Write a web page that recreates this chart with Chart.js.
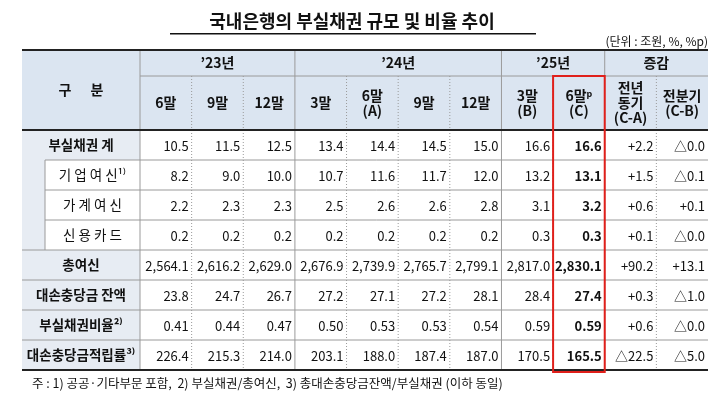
<!DOCTYPE html>
<html><head><meta charset="utf-8">
<script src="https://cdn.jsdelivr.net/npm/chart.js@4"></script>
<style>html,body{margin:0;background:#fff}#wrap{width:720px;height:403px}</style>
</head><body><div id="wrap"><canvas id="c"></canvas></div>
<script>
const columns = ['6말', '9말', '12말', '3말', '6말\n(A)', '9말', '12말', '3말\n(B)', '6말ᵖ\n(C)', '전년\n동기\n(C-A)', '전분기\n(C-B)'];
const yearGroups = [['’23년', 0, 2], ['’24년', 3, 6], ['’25년', 7, 8], ['증감', 9, 10]];
const rowLabels = ['부실채권 계', '기업여신', '가계여신', '신용카드', '총여신', '대손충당금 잔액', '부실채권비율', '대손충당금적립률'];
const labelText = ['부실채권 계', '기 업 여 신¹⁾', '가 계 여 신', '신 용 카 드', '총여신', '대손충당금 잔액', '부실채권비율²⁾', '대손충당금적립률³⁾'];
const subRows = [false, true, true, true, false, false, false, false];

const badLoans = ['10.5', '11.5', '12.5', '13.4', '14.4', '14.5', '15.0', '16.6', '16.6', '+2.2', '△0.0'];
const corporate = ['8.2', '9.0', '10.0', '10.7', '11.6', '11.7', '12.0', '13.2', '13.1', '+1.5', '△0.1'];
const household = ['2.2', '2.3', '2.3', '2.5', '2.6', '2.6', '2.8', '3.1', '3.2', '+0.6', '+0.1'];
const creditCard = ['0.2', '0.2', '0.2', '0.2', '0.2', '0.2', '0.2', '0.3', '0.3', '+0.1', '△0.0'];
const totalLoans = ['2,564.1', '2,616.2', '2,629.0', '2,676.9', '2,739.9', '2,765.7', '2,799.1', '2,817.0', '2,830.1', '+90.2', '+13.1'];
const allowance = ['23.8', '24.7', '26.7', '27.2', '27.1', '27.2', '28.1', '28.4', '27.4', '+0.3', '△1.0'];
const badRatio = ['0.41', '0.44', '0.47', '0.50', '0.53', '0.53', '0.54', '0.59', '0.59', '+0.6', '△0.0'];
const coverage = ['226.4', '215.3', '214.0', '203.1', '188.0', '187.4', '187.0', '170.5', '165.5', '△22.5', '△5.0'];
const tableRows = [badLoans, corporate, household, creditCard, totalLoans, allowance, badRatio, coverage];
const highlightCol = 8;

const FONT = '"Noto Sans CJK KR", "Noto Sans", sans-serif';

const tablePlugin = {
    id: 'table',
    afterDraw(chart) {
        const ctx = chart.ctx;
        const x = chart.scales.x;
        const y = chart.scales.y;
        const area = chart.chartArea;
        const colW = x.getPixelForValue(1) - x.getPixelForValue(0);
        const rowH = y.getPixelForValue(1) - y.getPixelForValue(0);
        const left = 22, top = 50, mid = 76, right = area.right;
        const colEdge = i => x.getPixelForValue(i) - colW / 2;
        const rowEdge = i => y.getPixelForValue(i) - rowH / 2;

        ctx.save();
        // title
        ctx.fillStyle = '#111';
        ctx.font = 'bold 18px ' + FONT;
        ctx.textAlign = 'center';
        ctx.textBaseline = 'middle';
        ctx.fillText('국내은행의 부실채권 규모 및 비율 추이', 352, 21);
        ctx.fillRect(170, 33, 366, 1.5);
        ctx.font = '12px ' + FONT;
        ctx.textAlign = 'right';
        ctx.fillText('(단위 : 조원, %, %p)', 708, 41);

        // backgrounds
        ctx.fillStyle = '#dbe5f1';
        ctx.fillRect(left, top, right - left, area.top - top);
        ctx.fillStyle = '#e7ecf3';
        ctx.fillRect(left, area.top, area.left - left, area.bottom - area.top);
        ctx.fillStyle = '#fff';
        rowLabels.forEach((r, i) => {
            if (subRows[i]) ctx.fillRect(45, rowEdge(i), area.left - 45, rowH);
        });

        // grid
        ctx.strokeStyle = '#9a9a9a';
        ctx.lineWidth = 1;
        for (let i = 1; i < rowLabels.length; i++) {
            const yy = rowEdge(i);
            ctx.beginPath();
            ctx.moveTo(subRows[i] ? 45 : left, yy);
            ctx.lineTo(right, yy);
            ctx.stroke();
        }
        ctx.beginPath();
        ctx.moveTo(area.left, mid); ctx.lineTo(right, mid);
        ctx.moveTo(45, rowEdge(1)); ctx.lineTo(45, rowEdge(4));
        ctx.stroke();
        for (let i = 0; i < columns.length; i++) {
            const xx = colEdge(i);
            const solid = i === 0 || yearGroups.some(g => g[1] === i);
            ctx.setLineDash(solid ? [] : [1, 2]);
            ctx.beginPath();
            ctx.moveTo(xx, solid ? top : mid);
            ctx.lineTo(xx, area.bottom);
            ctx.stroke();
        }
        ctx.setLineDash([]);
        ctx.strokeStyle = '#222';
        ctx.lineWidth = 2;
        [top, area.top, area.bottom].forEach(yy => {
            ctx.beginPath(); ctx.moveTo(left, yy); ctx.lineTo(right, yy); ctx.stroke();
        });

        // header text
        ctx.fillStyle = '#111';
        ctx.textAlign = 'center';
        ctx.font = 'bold 14px ' + FONT;
        ctx.fillText('구      분', (left + area.left) / 2, (top + area.top) / 2);
        yearGroups.forEach(g => {
            ctx.fillText(g[0], (colEdge(g[1]) + colEdge(g[2] + 1)) / 2, (top + mid) / 2);
        });
        columns.forEach((c, i) => {
            const lines = c.split('\n');
            const lh = 15;
            const y0 = (mid + area.top) / 2 - (lines.length - 1) * lh / 2;
            lines.forEach((t, k) => ctx.fillText(t, x.getPixelForValue(i), y0 + k * lh));
        });

        // body
        rowLabels.forEach((r, i) => {
            const yy = y.getPixelForValue(i);
            ctx.font = (subRows[i] ? '' : 'bold ') + '13.5px ' + FONT;
            ctx.textAlign = 'center';
            const cx = subRows[i] ? (45 + area.left) / 2 : (left + area.left) / 2;
            ctx.fillText(labelText[i], cx, yy);
            ctx.textAlign = 'right';
            tableRows[i].forEach((v, j) => {
                ctx.font = (j === highlightCol ? 'bold ' : '') + '13px ' + FONT;
                ctx.fillText(v, colEdge(j + 1) - 3, yy + 1);
            });
        });

        // highlight box
        ctx.strokeStyle = '#e0201b';
        ctx.lineWidth = 2;
        ctx.strokeRect(colEdge(highlightCol), mid, colW, area.bottom - mid + 2);

        // footnote
        ctx.fillStyle = '#111';
        ctx.font = '12.5px ' + FONT;
        ctx.textAlign = 'left';
        ctx.fillText('주 : 1) 공공·기타부문 포함,  2) 부실채권/총여신,  3) 총대손충당금잔액/부실채권 (이하 동일)', 32, 383);
        ctx.restore();
    }
};

new Chart(document.getElementById('c'), {
    type: 'bar',
    data: { labels: columns, datasets: [] },
    options: {
        responsive: true,
        maintainAspectRatio: false,
        animation: false,
        layout: { padding: { left: 140, right: 12, top: 130, bottom: 33 } },
        plugins: { legend: { display: false }, tooltip: { enabled: false } },
        scales: {
            x: { type: 'category', labels: columns, display: false, offset: true },
            y: { type: 'category', labels: rowLabels, display: false, offset: true }
        }
    },
    plugins: [tablePlugin]
});
</script>
</body></html>
